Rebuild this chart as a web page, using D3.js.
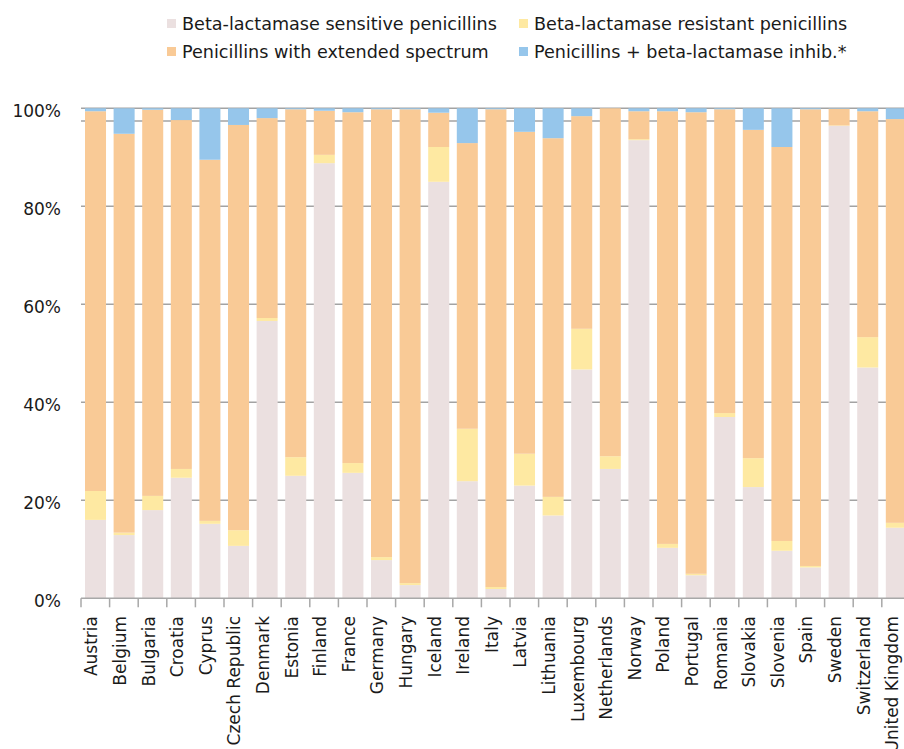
<!DOCTYPE html>
<html>
<head>
<meta charset="utf-8">
<script src="https://cdn.jsdelivr.net/npm/d3@7/dist/d3.min.js"></script>
<style>
  html, body { margin: 0; padding: 0; background: #ffffff; }
  svg { display: block; }
  text { font-family: "DejaVu Sans", Verdana, sans-serif; fill: #1a1a1a; }
</style>
</head>
<body>
<svg id="chart" width="904" height="749"></svg>
<script>
// ---- Data ----
const countries = ["Austria","Belgium","Bulgaria","Croatia","Cyprus","Czech Republic","Denmark","Estonia","Finland","France","Germany","Hungary","Iceland","Ireland","Italy","Latvia","Lithuania","Luxembourg","Netherlands","Norway","Poland","Portugal","Romania","Slovakia","Slovenia","Spain","Sweden","Switzerland","United Kingdom"];

const sensitive = [16.0,12.9,18.0,24.6,15.2,10.7,56.6,25.0,88.8,25.6,7.8,2.7,85.0,23.9,1.9,23.0,16.9,46.7,26.4,93.5,10.3,4.7,37.0,22.7,9.7,6.3,96.4,47.1,14.4];
const resistant = [5.9,0.5,2.9,1.8,0.6,3.2,0.6,3.8,1.7,2.0,0.6,0.4,7.1,10.7,0.4,6.5,3.8,8.3,2.6,0.2,0.8,0.3,0.8,5.9,2.0,0.3,0.1,6.2,1.0];
const extended  = [77.5,81.4,78.8,71.2,73.7,82.7,40.8,71.0,9.0,71.6,91.4,96.7,7.0,58.3,97.5,65.7,73.2,43.4,71.0,5.7,88.3,94.2,62.0,67.0,80.4,93.2,3.4,46.1,82.4];
const inhibitor = [0.6,5.2,0.3,2.4,10.5,3.4,2.0,0.2,0.5,0.8,0.2,0.2,0.9,7.1,0.2,4.8,6.1,1.6,0.0,0.6,0.6,0.8,0.2,4.4,7.9,0.2,0.1,0.6,2.2];

const seriesNames = ["Beta-lactamase sensitive penicillins","Beta-lactamase resistant penicillins","Penicillins with extended spectrum","Penicillins + beta-lactamase inhib.*"];
const seriesColors = ["#ebe0e0","#fee9a2","#f9ca96","#96c6eb"];
const yTicks = [0,20,40,60,80,100];
const extraLine = [97.4];

// ---- Layout ----
const svg = d3.select("#chart");
const plotLeft = 81, plotStep = 28.6;
const x = d3.scaleBand().domain(countries)
  .range([plotLeft, plotLeft + plotStep * countries.length]).padding(0);
const y = d3.scaleLinear().domain([0,100]).range([598.3,108.3]);
const gridRight = 904;

const rows = countries.map((c,i) => ({country:c, s:sensitive[i], r:resistant[i], e:extended[i], b:inhibitor[i]}));
const stack = d3.stack().keys(["s","r","e","b"]);
const layers = stack(rows);

// gridlines (behind bars)
const grid = svg.append("g");
grid.selectAll("line.g").data(yTicks.filter(d => d > 0).concat(extraLine)).join("line")
  .attr("x1", plotLeft).attr("x2", gridRight)
  .attr("y1", d => y(d)).attr("y2", d => y(d))
  .attr("stroke", "#a3a3a3").attr("stroke-width", 1.6);

// bars
const bw = x.bandwidth();
svg.append("g").selectAll("g").data(layers).join("g")
  .attr("fill", (d,i) => seriesColors[i])
  .selectAll("rect").data(d => d).join("rect")
  .attr("x", d => x(d.data.country) + bw * 0.14)
  .attr("width", bw * 0.735)
  .attr("y", d => y(d[1]))
  .attr("height", d => Math.max(0, y(d[0]) - y(d[1])));

// y labels
svg.append("g").selectAll("text").data(yTicks).join("text")
  .attr("x", 61).attr("y", d => y(d)).attr("dy", "0.5em")
  .attr("text-anchor", "end").attr("font-size", 17)
  .text(d => d + "%");

// x axis line and ticks
const xa = svg.append("g");
xa.append("line").attr("x1", plotLeft).attr("x2", gridRight)
  .attr("y1", y(0)).attr("y2", y(0))
  .attr("stroke", "#a8a8a8").attr("stroke-width", 1.5);
xa.selectAll("line.t").data(countries).join("line")
  .attr("class","t")
  .attr("x1", d => x(d)).attr("x2", d => x(d))
  .attr("y1", y(0)).attr("y2", y(0) + 9)
  .attr("stroke", "#a8a8a8").attr("stroke-width", 1.5);

// x labels
xa.selectAll("text").data(countries).join("text")
  .attr("transform", d => `translate(${x(d) + bw/2 + 2},616) rotate(-90)`)
  .attr("text-anchor", "end").attr("font-size", 17)
  .text(d => d);

// legend
const legendItems = [
  {name: seriesNames[0], color: seriesColors[0], col: 0, row: 0},
  {name: seriesNames[1], color: seriesColors[1], col: 1, row: 0},
  {name: seriesNames[2], color: seriesColors[2], col: 0, row: 1},
  {name: seriesNames[3], color: seriesColors[3], col: 1, row: 1}
];
const colX = [167, 519], rowY = [19, 47];
const lg = svg.append("g").selectAll("g").data(legendItems).join("g")
  .attr("transform", d => `translate(${colX[d.col]},${rowY[d.row]})`);
lg.append("rect").attr("width", 9).attr("height", 9).attr("fill", d => d.color);
lg.append("text").attr("x", 15).attr("y", 10.5).attr("font-size", 17.6).text(d => d.name);
</script>
</body>
</html>
